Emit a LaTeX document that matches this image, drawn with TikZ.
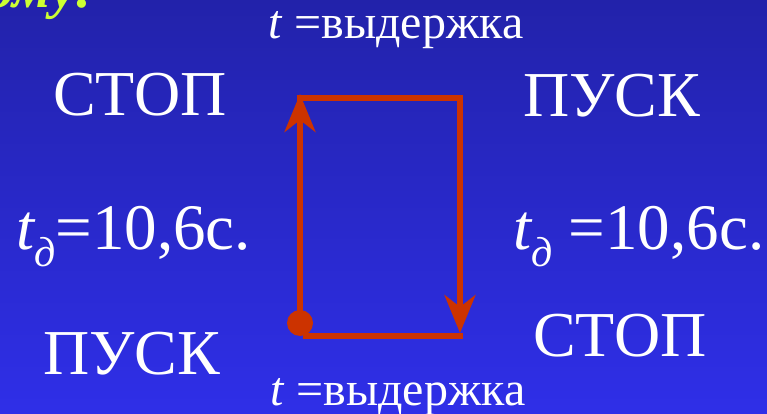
\documentclass[tikz,border=0pt]{standalone}
\usepackage{fontspec}
\setmainfont{Liberation Serif}
\usetikzlibrary{arrows.meta}
\definecolor{bgtop}{RGB}{34,34,170}
\definecolor{bgbot}{RGB}{47,47,232}
\definecolor{redl}{RGB}{204,51,0}
\definecolor{yel}{RGB}{204,255,51}
\newcommand\tdsub{{\itshape t}\raisebox{-17pt}{\fontsize{42}{42}\selectfont\itshape д}}
\begin{document}
\begin{tikzpicture}[x=1pt,y=1pt,
  big/.style={text=white,font=\fontsize{64}{64}\selectfont,inner sep=0pt,anchor=base west},
  eqn/.style={text=white,font=\fontsize{65}{65}\selectfont,inner sep=0pt,anchor=base west},
  mid/.style={text=white,font=\fontsize{48}{48}\selectfont,inner sep=0pt,anchor=base west},
  redline/.style={draw=redl,line width=5.5pt,line join=miter},
  redarrow/.style={redline,-{Stealth[length=38pt,width=31pt,inset=12pt]}}]
\shade[top color=bgtop,bottom color=bgbot] (0,0) rectangle (767,-414);
\useasboundingbox (0,0) rectangle (767,-414);
\clip (0,0) rectangle (767,-414);
% cut-off heading
\node[text=yel,font=\fontsize{56}{56}\selectfont\bfseries\itshape,inner sep=0pt,anchor=base east] (head) at (94,-8) {ому:};
% labels
\node[mid] (ttop) at (268,-39) {\textit{t} =выдержка};
\node[mid] (tbot) at (270,-405) {\textit{t} =выдержка};
\node[big] (stop1) at (53,-116) {СТОП};
\node[big] (pusk1) at (523,-117) {ПУСК};
\node[eqn] (td1) at (16,-249) {\tdsub=10,6с.};
\node[eqn] (td2) at (513,-249) {\tdsub\ =10,6с.};
\node[big] (pusk2) at (43,-374) {ПУСК};
\node[big] (stop2) at (533,-356) {СТОП};
% cycle diagram
\node[circle,fill=redl,inner sep=0pt,minimum size=26pt] (dot) at (300,-323) {};
\coordinate (uptip) at (300,-94);
\coordinate (tl) at (297.25,-98);
\coordinate (tr) at (460,-98);
\coordinate (downtip) at (460,-333);
\coordinate (bl) at (303,-336);
\coordinate (br) at (463,-336);
\draw[redarrow] (dot.center) -- (uptip);
\draw[redline] (tl) -- (tr) -- ([yshift=-20pt]tr);
\draw[redarrow] (tr) -- (downtip);
\draw[redline] (bl) -- (br);
\end{tikzpicture}
\end{document}
